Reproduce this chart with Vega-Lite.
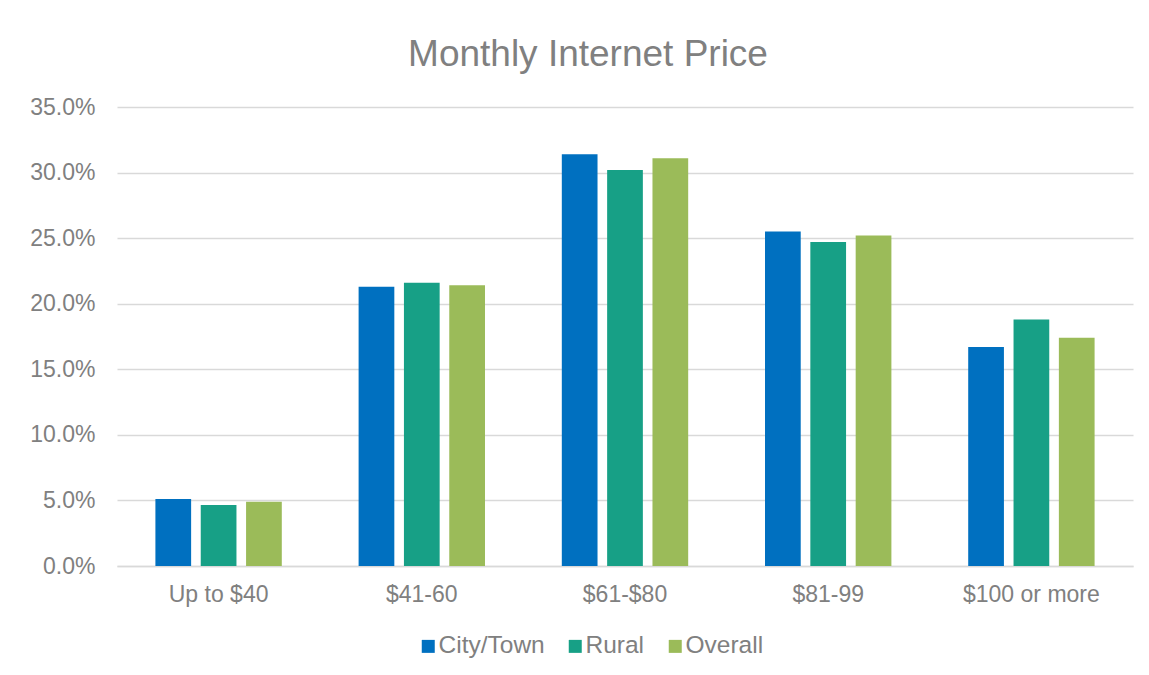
{
  "$schema": "https://vega.github.io/schema/vega-lite/v6.json",
  "autosize": "none",
  "width": 1016,
  "height": 459,
  "padding": {"left": 117, "top": 107, "right": 16, "bottom": 109},
  "background": "white",
  "title": {
    "text": "Monthly Internet Price",
    "frame": "group",
    "anchor": "middle",
    "fontSize": 37,
    "fontWeight": "normal",
    "font": "Liberation Sans",
    "color": "#808080",
    "baseline": "alphabetic",
    "offset": -7,
    "dx": -37
  },
  "config": {
    "view": {"stroke": null},
    "font": "Liberation Sans",
    "axis": {"labelFont": "Liberation Sans", "labelColor": "#808080", "labelFontSize": 23, "title": null},
    "legend": {"labelFont": "Liberation Sans"}
  },
  "data": {
    "values": [
      {"price": "Up to $40", "group": "City/Town", "value": 0.051},
      {"price": "Up to $40", "group": "Rural", "value": 0.0465},
      {"price": "Up to $40", "group": "Overall", "value": 0.049},
      {"price": "$41-60", "group": "City/Town", "value": 0.213},
      {"price": "$41-60", "group": "Rural", "value": 0.216},
      {"price": "$41-60", "group": "Overall", "value": 0.214},
      {"price": "$61-$80", "group": "City/Town", "value": 0.314},
      {"price": "$61-$80", "group": "Rural", "value": 0.302},
      {"price": "$61-$80", "group": "Overall", "value": 0.311},
      {"price": "$81-99", "group": "City/Town", "value": 0.255},
      {"price": "$81-99", "group": "Rural", "value": 0.247},
      {"price": "$81-99", "group": "Overall", "value": 0.252},
      {"price": "$100 or more", "group": "City/Town", "value": 0.167},
      {"price": "$100 or more", "group": "Rural", "value": 0.188},
      {"price": "$100 or more", "group": "Overall", "value": 0.174}
    ]
  },
  "mark": {"type": "bar"},
  "encoding": {
    "x": {
      "field": "price",
      "type": "nominal",
      "sort": ["Up to $40", "$41-60", "$61-$80", "$81-99", "$100 or more"],
      "scale": {"paddingInner": 0.378, "paddingOuter": 0.189},
      "axis": {"labelAngle": 0, "ticks": false, "domain": true, "domainColor": "#d9d9d9", "domainWidth": 1.5, "labelPadding": 17, "grid": false}
    },
    "xOffset": {
      "field": "group",
      "type": "nominal",
      "sort": ["City/Town", "Rural", "Overall"],
      "scale": {"paddingInner": 0.212, "paddingOuter": 0}
    },
    "y": {
      "field": "value",
      "type": "quantitative",
      "scale": {"domain": [0, 0.35], "nice": false},
      "axis": {"format": ".1%", "values": [0, 0.05, 0.1, 0.15, 0.2, 0.25, 0.3, 0.35], "ticks": false, "domain": false, "grid": true, "gridColor": "#d9d9d9", "gridWidth": 1.5, "labelPadding": 22}
    },
    "color": {
      "field": "group",
      "type": "nominal",
      "sort": ["City/Town", "Rural", "Overall"],
      "scale": {"domain": ["City/Town", "Rural", "Overall"], "range": ["#0070C0", "#17A086", "#9BBB59"]},
      "legend": {
        "title": null,
        "orient": "none",
        "direction": "horizontal",
        "legendX": 299,
        "legendY": 527,
        "symbolType": "square",
        "symbolSize": 169,
        "symbolStrokeWidth": 0,
        "symbolOpacity": 1,
        "labelFontSize": 24.5,
        "labelColor": "#808080",
        "labelOffset": -2,
        "columnPadding": 18
      }
    }
  }
}
